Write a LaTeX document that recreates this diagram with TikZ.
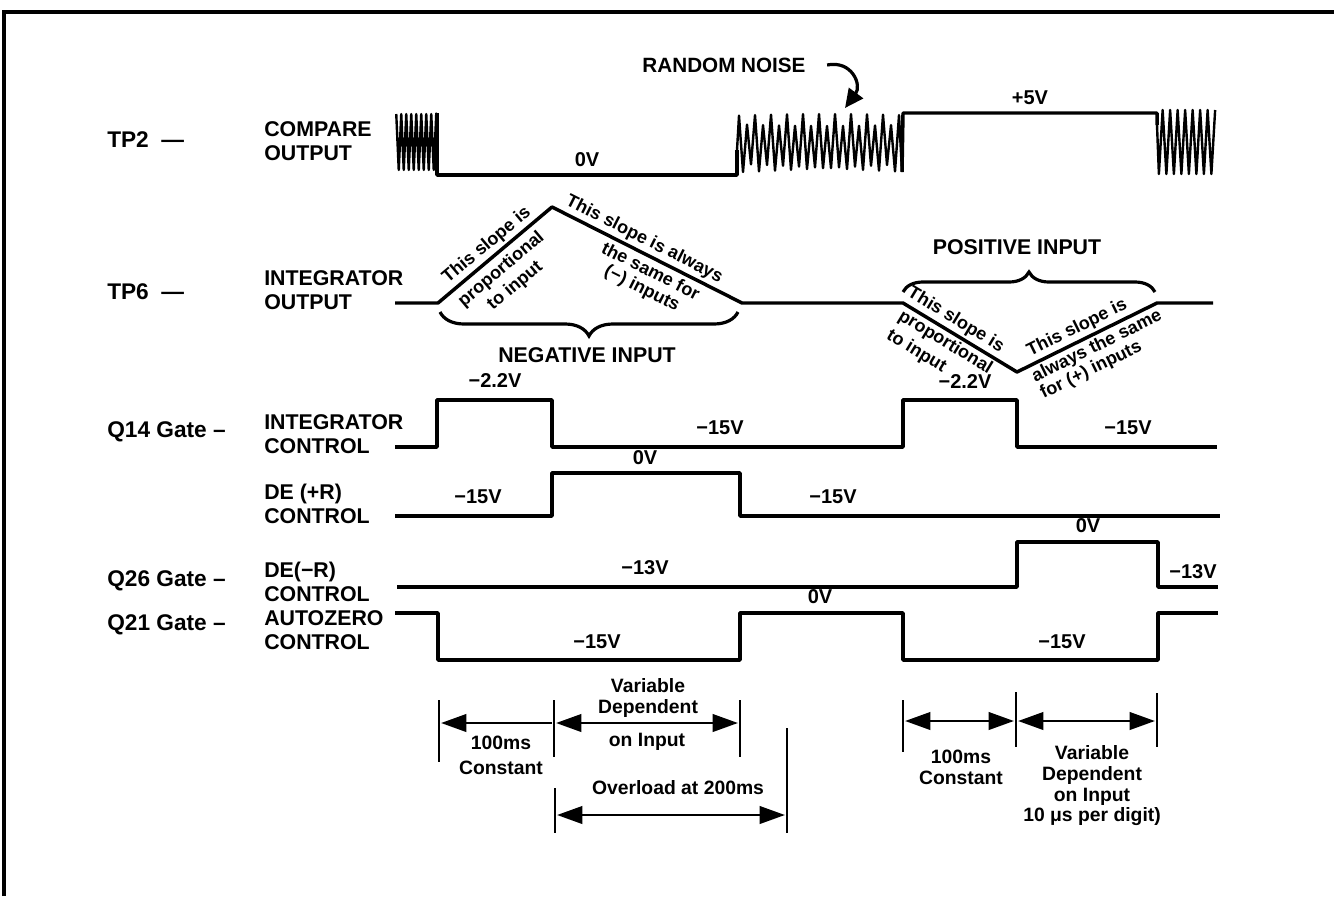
\documentclass[tikz,border=0pt]{standalone}
\usepackage{fontspec}
\setmainfont{Liberation Sans}
\usetikzlibrary{arrows.meta,decorations.pathreplacing}

\tikzset{
 wave/.style={line width=2.6pt,line join=round},
 noise/.style={line width=1.8pt,line join=round},
 dim/.style={line width=2.2pt},
 brc/.style={line width=2.4pt,decorate,decoration={brace,amplitude=#1}},
 tpname/.style={anchor=west,font=\bfseries\fontsize{17}{19}\selectfont},
 sig/.style={anchor=west,align=left,font=\bfseries\fontsize{16}{18}\selectfont},
 volt/.style={font=\bfseries\fontsize{15}{16}\selectfont},
 slope/.style={sloped,font=\bfseries\fontsize{13.5}{14}\selectfont},
 tm/.style={align=center,font=\bfseries\fontsize{14.5}{15.5}\selectfont},
}

\begin{document}
\begin{tikzpicture}[x=0.75pt,y=-0.75pt,inner sep=0pt,>={Triangle[length=19pt,width=13pt]}]
 \useasboundingbox (0,0) rectangle (1334,896);
 % frame
 \draw[line width=2.5pt] (4,896) -- (4,12) -- (1334,12);

 % left labels
 \node[tpname] (tp2) at (107,140) {TP2~~—};
 \node[tpname] (tp6) at (107,292) {TP6~~—};
 \node[tpname] (q14) at (107,432) {Q14 Gate~–};
 \node[tpname] (q26) at (107,581) {Q26 Gate~–};
 \node[tpname] (q21) at (107,625) {Q21 Gate~–};
 \node[sig] (cmp) at (264,141) {COMPARE\\OUTPUT};
 \node[sig] (intout) at (264,290) {INTEGRATOR\\OUTPUT};
 \node[sig] (intctl) at (264,434) {INTEGRATOR\\CONTROL};
 \node[sig] (dep) at (264,504) {DE (+R)\\CONTROL};
 \node[sig] (dem) at (264,582) {DE(−R)\\CONTROL};
 \node[sig] (az) at (264,630) {AUTOZERO\\CONTROL};

 % TP2 compare output
 \draw[noise] plot[domain=1.25:41.25,samples=17] ({395+\x},{142-28*sin(72*\x)}) -- (437,113);
 \draw[wave] (437,113) -- (437,175) -- (737,175) -- (737,150);
 \draw[noise] (737,150) -- plot[domain=2:162,samples=41] ({737+\x},{144-30*sin(45*\x)*(0.8+0.2*sin(67*\x))}) -- (902,172);
 \draw[wave] (902,172) -- (903,113) -- (1157,113) -- (1157,125);
 \draw[noise] (1157,125) -- plot[domain=1.875:58.125,samples=16] ({1157+\x},{142+32*sin(48*\x)});
 \node[font=\bfseries\fontsize{15.5}{17}\selectfont] (rn) at (724,65) {RANDOM NOISE};
 \draw[line width=2.4pt,-{Triangle[length=14pt,width=13pt]}] ([xshift=16pt]rn.east) .. controls (852,60) and (862,85) .. (845,108);

 % TP6 integrator output
 \coordinate (a) at (438,303);
 \coordinate (b) at (552,207);
 \coordinate (e) at (742,303);
 \coordinate (c) at (903,303);
 \coordinate (d) at (1017,372);
 \coordinate (f) at (1157,303);
 \draw[wave] (395,303) -- (a) -- (b) -- (e) -- (c) -- (d) -- (f) -- (1213,303);
 \path (a) -- (b) node[slope,pos=.5,above=3pt] (sa1) {This slope is}
  node[slope,pos=.47,below=5pt,align=center] (sa2) {proportional\\[2pt]to input};
 \path (b) -- (e) node[slope,pos=.455,above=3pt] (sb1) {This slope is always}
  node[slope,pos=.55,below=4pt,align=center] (sb2) {the same for\\(−) inputs};
 \path (c) -- (d) node[slope,pos=.405,above=3pt] (sc1) {This slope is}
  node[slope,pos=.0,below right=2.5pt,align=left] (sc2) {proportional\\[3pt]to input};
 \path (d) -- (f) node[slope,pos=.47,above=3pt] (sd1) {This slope is}
  node[slope,pos=.05,below right=3pt,align=left] (sd2) {always the same\\for (+) inputs};
 \draw[brc=18pt] (738,312) -- (440,312);
 \draw[brc=15pt] (903,292) -- (1155,292);
 \node[sig,anchor=center] (neg) at (587,355) {NEGATIVE INPUT};
 \node[sig,anchor=center] (pos) at (1017,247) {POSITIVE INPUT};

 % control waveforms
 \draw[wave] (395,447) -- (437,447) |- (552,400) |- (903,447) |- (1017,400) |- (1217,447);
 \draw[wave] (395,516) -- (552,516) |- (740,473) |- (1220,516);
 \draw[wave] (397,587) -- (1017,587) |- (1158,542) |- (1218,587);
 \draw[wave] (395,613) -- (438,613) |- (740,660) |- (903,613) |- (1158,660) |- (1218,613);
 \foreach \x/\y/\s/\n in {587/160/0V/1,1030/98/+5V/2,495/381/−2.2V/3,720/428/−15V/4,965/382/−2.2V/5,
   1128/428/−15V/6,645/458/0V/7,478/497/−15V/8,833/497/−15V/9,645/568/−13V/10,1088/526/0V/11,
   1193/572/−13V/12,820/597/0V/13,597/642/−15V/14,1062/642/−15V/15}
  \node[volt] (v\n) at (\x,\y) {\s};

 % timing
 \foreach \x/\a/\b in {439/700/762,554/700/757,740/700/757,903/700/752,1016/692/747,1157/693/747,555/788/833,787/728/833}
  \draw[dim] (\x,\a) -- (\x,\b);
 \draw[dim,<-] (441,723) -- (552,723);
 \draw[dim,<->] (556,723) -- (738,723);
 \draw[dim,<->] (557,815) -- (785,815);
 \draw[dim,<->] (905,721) -- (1014,721);
 \draw[dim,<->] (1018,721) -- (1155,721);
 \node[tm] (t1) at (501,755) {100ms\\[3pt]Constant};
 \node[tm] (t2) at (648,698) {Variable\\Dependent};
 \node[tm] (t3) at (647,742) {on Input};
 \node[tm] (t4) at (678,788) {Overload at 200ms};
 \node[tm] (t5) at (961,767) {100ms\\Constant};
 \node[tm] (t6) at (1092,786) {Variable\\Dependent\\on Input\\10 μs per digit)};
\end{tikzpicture}
\end{document}
